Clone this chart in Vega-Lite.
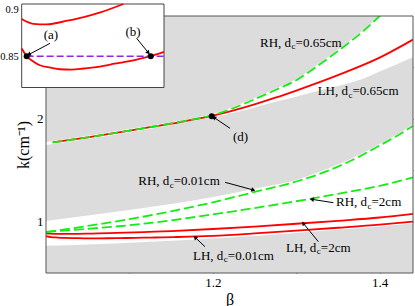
{
 "$schema": "https://vega.github.io/schema/vega-lite/v6.json",
 "width": 367, "height": 257,
 "autosize": {"type": "none"},
 "padding": {"left": 46, "top": 16, "right": 2, "bottom": 33},
 "background": "white",
 "config": {
  "view": {"stroke": null},
  "axis": {"domain": false, "grid": false, "zindex": 1, "labelFont": "Liberation Serif", "titleFont": "Liberation Serif", "labelColor": "black", "titleColor": "black", "tickColor": "#555555", "titleFontWeight": "normal", "tickWidth": 1},
  "text": {"font": "Liberation Serif", "color": "black"}
 },
 "datasets": {
  "frame": [{"b1": 1.0, "b2": 1.44, "k1": 0.5, "k2": 3.0}],
  "insetbox": [{"b1": 1.0, "b2": 1.172, "k1": 0.82, "k2": 0.9}],
  "bands": [
   {"band": "A", "b": 1.0, "lo": 0.766, "hi": 1.006},
   {"band": "A", "b": 1.05, "lo": 0.778, "hi": 1.06},
   {"band": "A", "b": 1.1, "lo": 0.795, "hi": 1.113},
   {"band": "A", "b": 1.15, "lo": 0.813, "hi": 1.17},
   {"band": "A", "b": 1.2, "lo": 0.835, "hi": 1.24},
   {"band": "A", "b": 1.25, "lo": 0.86, "hi": 1.32},
   {"band": "A", "b": 1.3, "lo": 0.89, "hi": 1.405},
   {"band": "A", "b": 1.325, "lo": 0.905, "hi": 1.475},
   {"band": "A", "b": 1.35, "lo": 0.92, "hi": 1.555},
   {"band": "A", "b": 1.375, "lo": 0.936, "hi": 1.648},
   {"band": "A", "b": 1.4, "lo": 0.952, "hi": 1.755},
   {"band": "A", "b": 1.42, "lo": 0.967, "hi": 1.845},
   {"band": "A", "b": 1.44, "lo": 0.982, "hi": 1.945},
   {"band": "B", "b": 1.0, "lo": 1.745, "hi": 1.775},
   {"band": "B", "b": 1.05, "lo": 1.805, "hi": 1.835},
   {"band": "B", "b": 1.1, "lo": 1.87, "hi": 1.9},
   {"band": "B", "b": 1.15, "lo": 1.94, "hi": 1.967},
   {"band": "B", "b": 1.19, "lo": 2.0, "hi": 2.028},
   {"band": "B", "b": 1.2, "lo": 2.015, "hi": 2.047},
   {"band": "B", "b": 1.225, "lo": 2.06, "hi": 2.117},
   {"band": "B", "b": 1.25, "lo": 2.11, "hi": 2.202},
   {"band": "B", "b": 1.275, "lo": 2.165, "hi": 2.292},
   {"band": "B", "b": 1.3, "lo": 2.215, "hi": 2.387},
   {"band": "B", "b": 1.33, "lo": 2.28, "hi": 2.552},
   {"band": "B", "b": 1.36, "lo": 2.34, "hi": 2.732},
   {"band": "B", "b": 1.38, "lo": 2.39, "hi": 2.862},
   {"band": "B", "b": 1.4, "lo": 2.459, "hi": 3.012},
   {"band": "B", "b": 1.42, "lo": 2.528, "hi": 3.2},
   {"band": "B", "b": 1.44, "lo": 2.598, "hi": 3.4}
  ],
  "curves": [
   {"s": "LH2", "b": 1.0, "k": 0.8856},
   {"s": "LH2", "b": 1.014, "k": 0.881},
   {"s": "LH2", "b": 1.03, "k": 0.8805},
   {"s": "LH2", "b": 1.055, "k": 0.884},
   {"s": "LH2", "b": 1.075, "k": 0.8875},
   {"s": "LH2", "b": 1.095, "k": 0.892},
   {"s": "LH2", "b": 1.123, "k": 0.9},
   {"s": "LH2", "b": 1.15, "k": 0.908},
   {"s": "LH2", "b": 1.2, "k": 0.928},
   {"s": "LH2", "b": 1.25, "k": 0.952},
   {"s": "LH2", "b": 1.3, "k": 0.979},
   {"s": "LH2", "b": 1.35, "k": 1.008},
   {"s": "LH2", "b": 1.4, "k": 1.04},
   {"s": "LH2", "b": 1.44, "k": 1.075},
   {"s": "LH001", "b": 1.0, "k": 0.8574},
   {"s": "LH001", "b": 1.006, "k": 0.85},
   {"s": "LH001", "b": 1.014, "k": 0.845},
   {"s": "LH001", "b": 1.022, "k": 0.8413},
   {"s": "LH001", "b": 1.035, "k": 0.839},
   {"s": "LH001", "b": 1.046, "k": 0.8375},
   {"s": "LH001", "b": 1.06, "k": 0.8372},
   {"s": "LH001", "b": 1.075, "k": 0.8382},
   {"s": "LH001", "b": 1.09, "k": 0.8395},
   {"s": "LH001", "b": 1.107, "k": 0.842},
   {"s": "LH001", "b": 1.125, "k": 0.8445},
   {"s": "LH001", "b": 1.139, "k": 0.8468},
   {"s": "LH001", "b": 1.156, "k": 0.85},
   {"s": "LH001", "b": 1.172, "k": 0.8541},
   {"s": "LH001", "b": 1.2, "k": 0.862},
   {"s": "LH001", "b": 1.25, "k": 0.885},
   {"s": "LH001", "b": 1.3, "k": 0.912},
   {"s": "LH001", "b": 1.35, "k": 0.94},
   {"s": "LH001", "b": 1.4, "k": 0.97},
   {"s": "LH001", "b": 1.44, "k": 1.0},
   {"s": "RH001", "b": 1.0, "k": 0.898},
   {"s": "RH001", "b": 1.05, "k": 0.958},
   {"s": "RH001", "b": 1.1, "k": 1.024},
   {"s": "RH001", "b": 1.15, "k": 1.1},
   {"s": "RH001", "b": 1.2, "k": 1.188},
   {"s": "RH001", "b": 1.25, "k": 1.288},
   {"s": "RH001", "b": 1.3, "k": 1.39},
   {"s": "RH001", "b": 1.325, "k": 1.455},
   {"s": "RH001", "b": 1.35, "k": 1.535},
   {"s": "RH001", "b": 1.375, "k": 1.63},
   {"s": "RH001", "b": 1.4, "k": 1.74},
   {"s": "RH001", "b": 1.42, "k": 1.83},
   {"s": "RH001", "b": 1.44, "k": 1.93},
   {"s": "RH2", "b": 1.0, "k": 0.9},
   {"s": "RH2", "b": 1.05, "k": 0.93},
   {"s": "RH2", "b": 1.1, "k": 0.965},
   {"s": "RH2", "b": 1.15, "k": 1.012},
   {"s": "RH2", "b": 1.2, "k": 1.07},
   {"s": "RH2", "b": 1.25, "k": 1.132},
   {"s": "RH2", "b": 1.3, "k": 1.198},
   {"s": "RH2", "b": 1.35, "k": 1.27},
   {"s": "RH2", "b": 1.4, "k": 1.348},
   {"s": "RH2", "b": 1.44, "k": 1.43},
   {"s": "LH065", "b": 1.008, "k": 1.77},
   {"s": "LH065", "b": 1.05, "k": 1.82},
   {"s": "LH065", "b": 1.1, "k": 1.885},
   {"s": "LH065", "b": 1.15, "k": 1.952},
   {"s": "LH065", "b": 1.2, "k": 2.03},
   {"s": "LH065", "b": 1.25, "k": 2.14},
   {"s": "LH065", "b": 1.275, "k": 2.205},
   {"s": "LH065", "b": 1.3, "k": 2.275},
   {"s": "LH065", "b": 1.35, "k": 2.425},
   {"s": "LH065", "b": 1.4, "k": 2.595},
   {"s": "LH065", "b": 1.44, "k": 2.77},
   {"s": "RH065", "b": 1.008, "k": 1.77},
   {"s": "RH065", "b": 1.05, "k": 1.82},
   {"s": "RH065", "b": 1.1, "k": 1.885},
   {"s": "RH065", "b": 1.15, "k": 1.955},
   {"s": "RH065", "b": 1.19, "k": 2.016},
   {"s": "RH065", "b": 1.2, "k": 2.035},
   {"s": "RH065", "b": 1.225, "k": 2.105},
   {"s": "RH065", "b": 1.25, "k": 2.19},
   {"s": "RH065", "b": 1.275, "k": 2.28},
   {"s": "RH065", "b": 1.3, "k": 2.375},
   {"s": "RH065", "b": 1.33, "k": 2.54},
   {"s": "RH065", "b": 1.36, "k": 2.72},
   {"s": "RH065", "b": 1.38, "k": 2.85},
   {"s": "RH065", "b": 1.4, "k": 3.0},
   {"s": "RH065", "b": 1.41, "k": 3.08}
  ],
  "points": [
   {"p": "main", "b": 1.1987, "k": 2.024},
   {"p": "inset", "b": 1.006, "k": 0.85},
   {"p": "inset", "b": 1.156, "k": 0.85}
  ],
  "arrows": [
   {"name": "d", "p": "main", "b1": 1.2206, "k1": 1.9076, "b2": 1.2014, "k2": 2.0127},
   {"name": "RH001", "p": "main", "b1": 1.2146, "k1": 1.3823, "b2": 1.2486, "k2": 1.3074},
   {"name": "LH001", "p": "main", "b1": 1.1906, "k1": 0.7558, "b2": 1.1787, "k2": 0.8473},
   {"name": "RH2", "p": "main", "b1": 1.3445, "k1": 1.1839, "b2": 1.3186, "k2": 1.2169},
   {"name": "LH2", "p": "main", "b1": 1.3265, "k1": 0.8045, "b2": 1.3085, "k2": 0.9835},
   {"name": "a", "p": "inset", "b1": 1.0342, "k1": 0.8623, "b2": 1.0085, "k2": 0.8515},
   {"name": "b", "p": "inset", "b1": 1.139, "k1": 0.8671, "b2": 1.1531, "k2": 0.8533}
  ],
  "labels": [
   {"pre": "RH, d", "sub": "c", "post": "=0.65cm", "b": 1.2938, "k": 2.701},
   {"pre": "LH, d", "sub": "c", "post": "=0.65cm", "b": 1.3621, "k": 2.227},
   {"pre": "RH, d", "sub": "c", "post": "=0.01cm", "b": 1.1478, "k": 1.356},
   {"pre": "LH, d", "sub": "c", "post": "=0.01cm", "b": 1.2126, "k": 0.6265},
   {"pre": "RH, d", "sub": "c", "post": "=2cm", "b": 1.3849, "k": 1.147},
   {"pre": "LH, d", "sub": "c", "post": "=2cm", "b": 1.3241, "k": 0.7072}
  ],
  "tags": [
   {"p": "main", "t": "(d)", "b": 1.2332, "k": 1.784},
   {"p": "inset", "t": "(a)", "b": 1.0354, "k": 0.8662},
   {"p": "inset", "t": "(b)", "b": 1.1346, "k": 0.8693}
  ],
  "hline": [{"b": 1.006, "k": 0.85}, {"b": 1.172, "k": 0.85}]
 },
 "layer": [
  {
   "layer": [
    {
     "data": {"name": "frame"},
     "mark": {"type": "rect", "fill": "#dcdcdc", "strokeWidth": 0},
     "encoding": {
      "x": {"field": "b1", "type": "quantitative", "scale": {"domain": [1.0, 1.44], "nice": false, "zero": false}, "axis": {"orient": "bottom", "values": [1.2, 1.4], "ticks": false, "labelPadding": 3, "labelFontSize": 13, "format": ".1f", "title": "β", "titleFontSize": 16, "titlePadding": 2}},
      "x2": {"field": "b2"},
      "y": {"field": "k1", "type": "quantitative", "scale": {"domain": [0.5, 3.0], "nice": false, "zero": false}, "axis": {"orient": "left", "values": [1, 2], "ticks": false, "labelPadding": 3, "labelFontSize": 13, "format": "d", "title": "k(cm⁻¹)", "titleFontSize": 16, "titlePadding": 5}},
      "y2": {"field": "k2"}
     }
    },
    {
     "data": {"name": "bands"},
     "transform": [{"filter": "datum.band == 'A'"}],
     "mark": {"type": "area", "color": "white", "opacity": 1, "interpolate": "monotone", "clip": true},
     "encoding": {
      "x": {"field": "b", "type": "quantitative", "scale": {"domain": [1.0, 1.44], "nice": false, "zero": false}, "axis": {"orient": "bottom", "values": [1.2, 1.4], "labels": false, "tickSize": -6, "title": null}},
      "y": {"field": "lo", "type": "quantitative", "scale": {"domain": [0.5, 3.0], "nice": false, "zero": false}, "axis": {"orient": "left", "values": [1, 2], "labels": false, "tickSize": -6, "title": null}},
      "y2": {"field": "hi"}
     }
    },
    {
     "data": {"name": "bands"},
     "transform": [{"filter": "datum.band == 'B'"}],
     "mark": {"type": "area", "color": "white", "opacity": 1, "interpolate": "monotone", "clip": true},
     "encoding": {
      "x": {"field": "b", "type": "quantitative", "scale": {"domain": [1.0, 1.44], "nice": false, "zero": false}, "axis": {"orient": "top", "values": [1.2, 1.4], "labels": false, "tickSize": -6, "title": null}},
      "y": {"field": "lo", "type": "quantitative", "scale": {"domain": [0.5, 3.0], "nice": false, "zero": false}, "axis": {"orient": "right", "values": [1, 2], "labels": false, "tickSize": -6, "title": null}},
      "y2": {"field": "hi"}
     }
    },
    {
     "data": {"name": "curves"},
     "transform": [{"filter": "indexof(['LH2','LH001','LH065'], datum.s) >= 0"}],
     "mark": {"type": "line", "color": "#ff0000", "strokeWidth": 1.8, "interpolate": "monotone", "clip": true},
     "encoding": {
      "x": {"field": "b", "type": "quantitative", "scale": {"domain": [1.0, 1.44], "nice": false, "zero": false}, "axis": {"orient": "bottom", "values": [1.1, 1.3], "labels": false, "tickSize": -3.5, "title": null}},
      "y": {"field": "k", "type": "quantitative", "scale": {"domain": [0.5, 3.0], "nice": false, "zero": false}, "axis": {"orient": "left", "values": [1.5], "labels": false, "tickSize": -3.5, "title": null}},
      "detail": {"field": "s"}
     }
    },
    {
     "data": {"name": "curves"},
     "transform": [{"filter": "indexof(['RH2','RH001','RH065'], datum.s) >= 0"}],
     "mark": {"type": "line", "color": "#11ee11", "strokeWidth": 1.8, "strokeDash": [10, 4], "interpolate": "monotone", "clip": true},
     "encoding": {
      "x": {"field": "b", "type": "quantitative", "scale": {"domain": [1.0, 1.44], "nice": false, "zero": false}, "axis": {"orient": "top", "values": [1.3], "labels": false, "tickSize": -3.5, "title": null}},
      "y": {"field": "k", "type": "quantitative", "scale": {"domain": [0.5, 3.0], "nice": false, "zero": false}, "axis": {"orient": "right", "values": [1.5, 2.5], "labels": false, "tickSize": -3.5, "title": null}},
      "detail": {"field": "s"}
     }
    },
    {
     "data": {"name": "points"},
     "transform": [{"filter": "datum.p == 'main'"}],
     "mark": {"type": "point", "filled": true, "color": "black", "opacity": 1, "size": 36},
     "encoding": {
      "x": {"field": "b", "type": "quantitative", "scale": {"domain": [1.0, 1.44], "nice": false, "zero": false}, "axis": null},
      "y": {"field": "k", "type": "quantitative", "scale": {"domain": [0.5, 3.0], "nice": false, "zero": false}, "axis": null}
     }
    },
    {
     "data": {"name": "arrows"},
     "transform": [{"filter": "datum.p == 'main'"}],
     "mark": {"type": "rule", "color": "black", "strokeWidth": 1},
     "encoding": {
      "x": {"field": "b1", "type": "quantitative", "scale": {"domain": [1.0, 1.44], "nice": false, "zero": false}, "axis": null},
      "y": {"field": "k1", "type": "quantitative", "scale": {"domain": [0.5, 3.0], "nice": false, "zero": false}, "axis": null},
      "x2": {"field": "b2"},
      "y2": {"field": "k2"}
     }
    },
    {
     "data": {"name": "arrows"},
     "transform": [{"filter": "datum.name == 'd'"}],
     "mark": {"type": "point", "shape": "triangle-up", "angle": 304, "filled": true, "color": "black", "opacity": 1, "size": 22},
     "encoding": {
      "x": {"field": "b2", "type": "quantitative", "scale": {"domain": [1.0, 1.44], "nice": false, "zero": false}, "axis": null},
      "y": {"field": "k2", "type": "quantitative", "scale": {"domain": [0.5, 3.0], "nice": false, "zero": false}, "axis": null}
     }
    },
    {
     "data": {"name": "arrows"},
     "transform": [{"filter": "datum.name == 'RH001'"}],
     "mark": {"type": "point", "shape": "triangle-up", "angle": 106, "filled": true, "color": "black", "opacity": 1, "size": 22},
     "encoding": {
      "x": {"field": "b2", "type": "quantitative", "scale": {"domain": [1.0, 1.44], "nice": false, "zero": false}, "axis": null},
      "y": {"field": "k2", "type": "quantitative", "scale": {"domain": [0.5, 3.0], "nice": false, "zero": false}, "axis": null}
     }
    },
    {
     "data": {"name": "arrows"},
     "transform": [{"filter": "datum.name == 'LH001'"}],
     "mark": {"type": "point", "shape": "triangle-up", "angle": 313, "filled": true, "color": "black", "opacity": 1, "size": 22},
     "encoding": {
      "x": {"field": "b2", "type": "quantitative", "scale": {"domain": [1.0, 1.44], "nice": false, "zero": false}, "axis": null},
      "y": {"field": "k2", "type": "quantitative", "scale": {"domain": [0.5, 3.0], "nice": false, "zero": false}, "axis": null}
     }
    },
    {
     "data": {"name": "arrows"},
     "transform": [{"filter": "datum.name == 'RH2'"}],
     "mark": {"type": "point", "shape": "triangle-up", "angle": 279, "filled": true, "color": "black", "opacity": 1, "size": 22},
     "encoding": {
      "x": {"field": "b2", "type": "quantitative", "scale": {"domain": [1.0, 1.44], "nice": false, "zero": false}, "axis": null},
      "y": {"field": "k2", "type": "quantitative", "scale": {"domain": [0.5, 3.0], "nice": false, "zero": false}, "axis": null}
     }
    },
    {
     "data": {"name": "arrows"},
     "transform": [{"filter": "datum.name == 'LH2'"}],
     "mark": {"type": "point", "shape": "triangle-up", "angle": 321, "filled": true, "color": "black", "opacity": 1, "size": 22},
     "encoding": {
      "x": {"field": "b2", "type": "quantitative", "scale": {"domain": [1.0, 1.44], "nice": false, "zero": false}, "axis": null},
      "y": {"field": "k2", "type": "quantitative", "scale": {"domain": [0.5, 3.0], "nice": false, "zero": false}, "axis": null}
     }
    },
    {
     "data": {"name": "labels"},
     "mark": {"type": "text", "align": "right", "baseline": "alphabetic", "fontSize": 13},
     "encoding": {
      "x": {"field": "b", "type": "quantitative", "scale": {"domain": [1.0, 1.44], "nice": false, "zero": false}, "axis": null},
      "y": {"field": "k", "type": "quantitative", "scale": {"domain": [0.5, 3.0], "nice": false, "zero": false}, "axis": null},
      "text": {"field": "pre", "type": "nominal"}
     }
    },
    {
     "data": {"name": "labels"},
     "mark": {"type": "text", "align": "left", "baseline": "alphabetic", "fontSize": 9, "dx": 0.5, "dy": 2.5},
     "encoding": {
      "x": {"field": "b", "type": "quantitative", "scale": {"domain": [1.0, 1.44], "nice": false, "zero": false}, "axis": null},
      "y": {"field": "k", "type": "quantitative", "scale": {"domain": [0.5, 3.0], "nice": false, "zero": false}, "axis": null},
      "text": {"field": "sub", "type": "nominal"}
     }
    },
    {
     "data": {"name": "labels"},
     "mark": {"type": "text", "align": "left", "baseline": "alphabetic", "fontSize": 13, "dx": 4.5},
     "encoding": {
      "x": {"field": "b", "type": "quantitative", "scale": {"domain": [1.0, 1.44], "nice": false, "zero": false}, "axis": null},
      "y": {"field": "k", "type": "quantitative", "scale": {"domain": [0.5, 3.0], "nice": false, "zero": false}, "axis": null},
      "text": {"field": "post", "type": "nominal"}
     }
    },
    {
     "data": {"name": "tags"},
     "transform": [{"filter": "datum.p == 'main'"}],
     "mark": {"type": "text", "align": "center", "baseline": "alphabetic", "fontSize": 13},
     "encoding": {
      "x": {"field": "b", "type": "quantitative", "scale": {"domain": [1.0, 1.44], "nice": false, "zero": false}, "axis": null},
      "y": {"field": "k", "type": "quantitative", "scale": {"domain": [0.5, 3.0], "nice": false, "zero": false}, "axis": null},
      "text": {"field": "t", "type": "nominal"}
     }
    },
    {
     "data": {"name": "frame"},
     "mark": {"type": "rect", "fill": "white", "fillOpacity": 0, "stroke": "#555555", "strokeWidth": 1},
     "encoding": {
      "x": {"field": "b1", "type": "quantitative", "scale": {"domain": [1.0, 1.44], "nice": false, "zero": false}, "axis": null},
      "x2": {"field": "b2"},
      "y": {"field": "k1", "type": "quantitative", "scale": {"domain": [0.5, 3.0], "nice": false, "zero": false}, "axis": null},
      "y2": {"field": "k2"}
     }
    }
   ],
   "resolve": {"axis": {"x": "independent", "y": "independent"}}
  },
  {
   "layer": [
    {
     "data": {"name": "insetbox"},
     "mark": {"type": "rect", "fill": "white", "stroke": "#444444", "strokeWidth": 1},
     "encoding": {
      "x": {"field": "b1", "type": "quantitative", "scale": {"domain": [1.0, 1.172], "range": [-24.3, 118], "nice": false, "zero": false}, "axis": {"orient": "bottom", "offset": -185.5, "values": [1.05, 1.1, 1.15], "ticks": false, "labelPadding": 4, "labelFontSize": 10.5, "format": ".2~f", "title": null}},
      "x2": {"field": "b2"},
      "y": {"field": "k1", "type": "quantitative", "scale": {"domain": [0.82, 0.9], "range": [71.5, -12], "nice": false, "zero": false}, "axis": {"orient": "left", "offset": 24.3, "values": [0.85, 0.9], "ticks": false, "labelPadding": 3.5, "labelFontSize": 10.5, "format": ".2~f", "title": null, "labelBaseline": {"condition": {"test": "datum.value > 0.89", "value": "top"}, "value": "middle"}}},
      "y2": {"field": "k2"}
     }
    },
    {
     "data": {"name": "curves"},
     "transform": [{"filter": "(datum.s == 'LH2' && datum.b <= 1.123) || (datum.s == 'LH001' && datum.b <= 1.172)"}],
     "mark": {"type": "line", "color": "#ff0000", "strokeWidth": 1.8, "interpolate": "monotone"},
     "encoding": {
      "x": {"field": "b", "type": "quantitative", "scale": {"domain": [1.0, 1.172], "range": [-24.3, 118], "nice": false, "zero": false}, "axis": {"orient": "bottom", "offset": -185.5, "values": [1.025, 1.05, 1.075, 1.1, 1.125, 1.15], "labels": false, "tickSize": -3.5, "title": null}},
      "y": {"field": "k", "type": "quantitative", "scale": {"domain": [0.82, 0.9], "range": [71.5, -12], "nice": false, "zero": false}, "axis": {"orient": "left", "offset": 24.3, "values": [0.825, 0.85, 0.875], "labels": false, "tickSize": -3.5, "title": null}},
      "detail": {"field": "s"}
     }
    },
    {
     "data": {"name": "hline"},
     "mark": {"type": "line", "color": "#8a2be2", "strokeWidth": 1.5, "strokeDash": [7, 3]},
     "encoding": {
      "x": {"field": "b", "type": "quantitative", "scale": {"domain": [1.0, 1.172], "range": [-24.3, 118], "nice": false, "zero": false}, "axis": {"orient": "top", "offset": 12, "values": [1.025, 1.05, 1.075, 1.1, 1.125, 1.15], "labels": false, "tickSize": -3.5, "title": null}},
      "y": {"field": "k", "type": "quantitative", "scale": {"domain": [0.82, 0.9], "range": [71.5, -12], "nice": false, "zero": false}, "axis": {"orient": "right", "offset": -249, "values": [0.825, 0.85, 0.875], "labels": false, "tickSize": -3.5, "title": null}}
     }
    },
    {
     "data": {"name": "points"},
     "transform": [{"filter": "datum.p == 'inset'"}],
     "mark": {"type": "point", "filled": true, "color": "black", "opacity": 1, "size": 36},
     "encoding": {
      "x": {"field": "b", "type": "quantitative", "scale": {"domain": [1.0, 1.172], "range": [-24.3, 118], "nice": false, "zero": false}, "axis": null},
      "y": {"field": "k", "type": "quantitative", "scale": {"domain": [0.82, 0.9], "range": [71.5, -12], "nice": false, "zero": false}, "axis": null}
     }
    },
    {
     "data": {"name": "arrows"},
     "transform": [{"filter": "datum.p == 'inset'"}],
     "mark": {"type": "rule", "color": "black", "strokeWidth": 1},
     "encoding": {
      "x": {"field": "b1", "type": "quantitative", "scale": {"domain": [1.0, 1.172], "range": [-24.3, 118], "nice": false, "zero": false}, "axis": null},
      "y": {"field": "k1", "type": "quantitative", "scale": {"domain": [0.82, 0.9], "range": [71.5, -12], "nice": false, "zero": false}, "axis": null},
      "x2": {"field": "b2"},
      "y2": {"field": "k2"}
     }
    },
    {
     "data": {"name": "arrows"},
     "transform": [{"filter": "datum.name == 'a'"}],
     "mark": {"type": "point", "shape": "triangle-up", "angle": 243, "filled": true, "color": "black", "opacity": 1, "size": 22},
     "encoding": {
      "x": {"field": "b2", "type": "quantitative", "scale": {"domain": [1.0, 1.172], "range": [-24.3, 118], "nice": false, "zero": false}, "axis": null},
      "y": {"field": "k2", "type": "quantitative", "scale": {"domain": [0.82, 0.9], "range": [71.5, -12], "nice": false, "zero": false}, "axis": null}
     }
    },
    {
     "data": {"name": "arrows"},
     "transform": [{"filter": "datum.name == 'b'"}],
     "mark": {"type": "point", "shape": "triangle-up", "angle": 141, "filled": true, "color": "black", "opacity": 1, "size": 22},
     "encoding": {
      "x": {"field": "b2", "type": "quantitative", "scale": {"domain": [1.0, 1.172], "range": [-24.3, 118], "nice": false, "zero": false}, "axis": null},
      "y": {"field": "k2", "type": "quantitative", "scale": {"domain": [0.82, 0.9], "range": [71.5, -12], "nice": false, "zero": false}, "axis": null}
     }
    },
    {
     "data": {"name": "tags"},
     "transform": [{"filter": "datum.p == 'inset'"}],
     "mark": {"type": "text", "align": "center", "baseline": "alphabetic", "fontSize": 13},
     "encoding": {
      "x": {"field": "b", "type": "quantitative", "scale": {"domain": [1.0, 1.172], "range": [-24.3, 118], "nice": false, "zero": false}, "axis": null},
      "y": {"field": "k", "type": "quantitative", "scale": {"domain": [0.82, 0.9], "range": [71.5, -12], "nice": false, "zero": false}, "axis": null},
      "text": {"field": "t", "type": "nominal"}
     }
    }
   ],
   "resolve": {"axis": {"x": "independent", "y": "independent"}}
  }
 ],
 "resolve": {"scale": {"x": "independent", "y": "independent"}, "axis": {"x": "independent", "y": "independent"}}
}
